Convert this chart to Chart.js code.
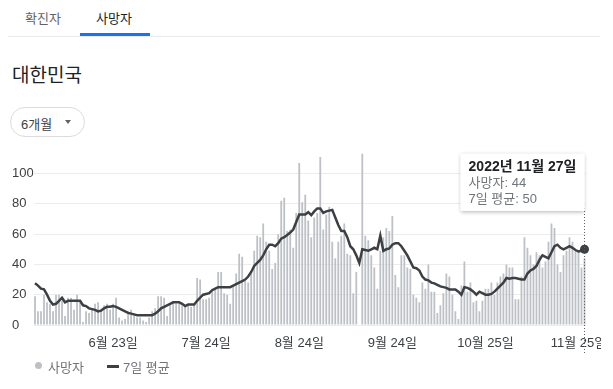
<!DOCTYPE html>
<html>
<head>
<meta charset="utf-8">
<script src="https://cdn.jsdelivr.net/npm/chart.js@4.4.0/dist/chart.umd.min.js"></script>
<style>
  body { margin:0; background:#fff; font-family:"Liberation Sans", Arial, "Noto Sans CJK KR", sans-serif; }
  #page { position:relative; width:613px; height:389px; overflow:hidden; }
  .tab { position:absolute; top:8px; font-size:13px; color:#5f6368; }
  .tab.on { color:#202124; }
  #underline { position:absolute; left:80px; top:33px; width:70px; height:3px; background:#1a73e8; }
  #divider { position:absolute; left:8px; top:36px; width:592px; height:1px; background:#e8eaed; }
  #title { position:absolute; left:12px; top:60px; font-size:19px; color:#202124; }
  #pill { position:absolute; left:10px; top:107px; width:73px; height:28px; border:1px solid #dadce0; border-radius:15px; }
  #pill span { position:absolute; left:10px; top:6px; font-size:13px; color:#3c4043; }
  #pill i { position:absolute; left:54px; top:12px; width:0; height:0; border-left:3.5px solid transparent; border-right:3.5px solid transparent; border-top:4px solid #5f6368; }
  #wrap { position:absolute; left:0; top:140px; width:601px; height:220px; overflow:hidden; }
  .leg { position:absolute; top:357px; font-size:13px; color:#70757a; }
  #dot { position:absolute; left:35px; top:362px; width:7px; height:7px; border-radius:50%; background:#bdc1c6; }
  #dash { position:absolute; left:107px; top:365px; width:12px; height:2.5px; background:#3c4043; }
</style>
</head>
<body>
<div id="page">
  <div class="tab" style="left:25px">확진자</div>
  <div class="tab on" style="left:96px">사망자</div>
  <div id="divider"></div>
  <div id="underline"></div>
  <div id="title">대한민국</div>
  <div id="pill"><span>6개월</span><i></i></div>
  <div id="wrap"><canvas id="chart" width="601" height="220"></canvas></div>
  <div id="dot"></div><div class="leg" style="left:48px">사망자</div>
  <div id="dash"></div><div class="leg" style="left:123px">7일 평균</div>
</div>
<script>
// DATA

const startDate = [2022, 4, 28]; // 5월 28일

const tickLabels = ['6월 23일','7월 24일','8월 24일','9월 24일','10월 25일','11월 25일'];

const deaths = [
  19,9,9,20,15,14,9,20,20,16,
  6,18,18,10,20,15,2,9,8,10,
  14,15,10,13,14,10,14,18,5,3,
  4,9,10,7,5,5,3,2,5,9,
  11,19,19,18,6,13,15,14,14,13,
  13,13,12,14,31,30,17,17,18,24,
  24,35,35,21,20,14,26,34,47,45,
  29,28,35,49,59,58,67,55,49,37,
  41,60,82,84,62,63,51,74,107,81,
  86,69,58,71,74,111,63,73,78,55,
  44,55,59,67,47,46,21,35,null,113,
  59,56,46,38,24,49,58,64,62,72,
  33,25,46,46,38,37,20,18,15,28,
  24,40,22,22,8,13,21,34,32,20,
  9,4,26,42,22,28,15,16,9,16,
  24,24,28,20,28,32,34,40,38,38,
  17,17,32,58,51,46,40,48,46,38,
  42,55,67,64,40,35,46,49,58,55,
  49,49,38,44
];

const avg7 = [
  27.5,26,24,23.5,20,16,13.5,14,16,18,
  15,16,16,16,16,16,13,12.5,11,10.5,
  10,9,9.5,11,12,12,12.5,12,11,10,
  9,8,7.5,7,6.5,6.5,6.5,6.5,6.5,6.5,
  7.5,9,11,12,13,14,15,15,15,14,
  12.5,13.5,13.5,13.5,16,18,20,20.5,21,23,
  24,25,25,25,25,25,26,27,28,29,
  30,32,35,39,41,43,46,50,53,53,
  52,54,57,58,59.5,61,63,68,73,73,
  73,74.5,72.5,75,77,77,74,75,75.5,76,
  71,66,62,62,58,52,50,46,41,50,
  49.5,49,50,51,50,59,49,50,50.5,53,
  54,54,52,49,46,42,38,37.5,36,32,
  30,29.5,28,27.5,26.5,25.5,25,24.5,23.5,23.5,
  23.5,22,20,25,24.5,23.5,22,20,22,21,
  20,20,20.5,22,24,26,28,31,30.5,31,
  31,30.5,30,30,34,36,37,39,43,46,
  45,44,48,52,53,51,50,51,52,51,
  49.5,48.5,49,50
];

// date labels
const labels = [];
for (let i = 0; i < deaths.length; i++) {
  const d = new Date(startDate[0], startDate[1], startDate[2] + i);
  labels.push((d.getMonth() + 1) + '월 ' + d.getDate() + '일');
}
const last = labels.length - 1;

const pointRadius = labels.map((l, i) => i === last ? 4.5 : 0);

// tooltip box on top of the chart, right edge at the point
Chart.Tooltip.positioners.topRight = function(items) {
  if (!items.length) return false;
  return { x: items[0].element.x, y: this.chart.chartArea.top + 6 };
};

const extras = {
  id: 'extras',
  afterDatasetsDraw(chart) {
    const ctx = chart.ctx;
    const x = chart.getDatasetMeta(1).data[last].x;
    ctx.save();
    ctx.strokeStyle = '#5f6368';
    ctx.lineWidth = 1;
    ctx.setLineDash([1, 2]);
    ctx.beginPath();
    ctx.moveTo(Math.round(x) + 0.5, 68);
    ctx.lineTo(Math.round(x) + 0.5, 215);
    ctx.stroke();
    ctx.restore();
  },
  beforeTooltipDraw(chart, args) {
    const tt = args.tooltip;
    const ctx = chart.ctx;
    ctx.save();
    ctx.shadowColor = 'rgba(0,0,0,0.3)';
    ctx.shadowBlur = 4;
    ctx.shadowOffsetY = 1;
    ctx.fillStyle = '#fff';
    ctx.fillRect(tt.x, tt.y, tt.width, tt.height);
    ctx.restore();
  }
};

const font = { family: '"Liberation Sans", Arial, "Noto Sans CJK KR", sans-serif', size: 13 };

const chart = new Chart(document.getElementById('chart'), {
  data: {
    labels: labels,
    datasets: [
      {
        type: 'bar',
        label: '사망자',
        data: deaths,
        backgroundColor: '#bdc1c6',
        categoryPercentage: 1,
        barPercentage: 0.6,
        order: 1
      },
      {
        type: 'line',
        label: '7일 평균',
        data: avg7,
        borderColor: '#3c4043',
        borderWidth: 2.5,
        pointRadius: pointRadius,
        pointBackgroundColor: '#3c4043',
        pointBorderWidth: 0,
        tension: 0,
        order: 0
      }
    ]
  },
  options: {
    responsive: false,
    animation: false,
    devicePixelRatio: 1,
    layout: { padding: { left: 12, right: 15, top: 6, bottom: 0 } },
    interaction: { mode: 'index', intersect: false },
    events: [],
    plugins: {
      legend: { display: false },
      tooltip: {
        position: 'topRight',
        xAlign: 'right',
        yAlign: 'top',
        caretSize: 0,
        caretPadding: 0,
        cornerRadius: 0,
        backgroundColor: '#fff',
        borderWidth: 0,
        displayColors: false,
        padding: { top: 5, bottom: 4, left: 8, right: 8 },
        titleColor: '#202124',
        titleFont: { family: font.family, size: 14, weight: 'bold' },
        titleMarginBottom: 0,
        bodyColor: '#70757a',
        bodyFont: { family: font.family, size: 13 },
        bodySpacing: 0,
        itemSort: (a, b) => a.datasetIndex - b.datasetIndex,
        callbacks: {
          title: items => '2022년 ' + items[0].label,
          label: item => item.dataset.label + ': ' + item.raw
        }
      }
    },
    scales: {
      x: {
        grid: { display: false },
        border: { display: false },
        afterFit: s => { s.height = 35; },
        ticks: {
          autoSkip: false,
          maxRotation: 0,
          padding: 3,
          color: '#3c4043',
          font: font,
          callback: function(v) {
            const l = this.getLabelForValue(v);
            return tickLabels.includes(l) ? l : '';
          }
        }
      },
      y: {
        min: 0,
        max: 117,
        afterBuildTicks: s => { s.ticks = s.ticks.filter(t => t.value <= 100); },
        afterFit: s => { s.width = 21.5; },
        grid: { color: '#ececec', drawTicks: false },
        border: { display: false },
        ticks: {
          stepSize: 20,
          crossAlign: 'far',
          padding: 0,
          color: '#3c4043',
          font: font
        }
      }
    }
  },
  plugins: [extras]
});

chart.tooltip.setActiveElements(
  [{ datasetIndex: 0, index: last }, { datasetIndex: 1, index: last }],
  { x: 0, y: 0 }
);
chart.update();
</script>
</body>
</html>
